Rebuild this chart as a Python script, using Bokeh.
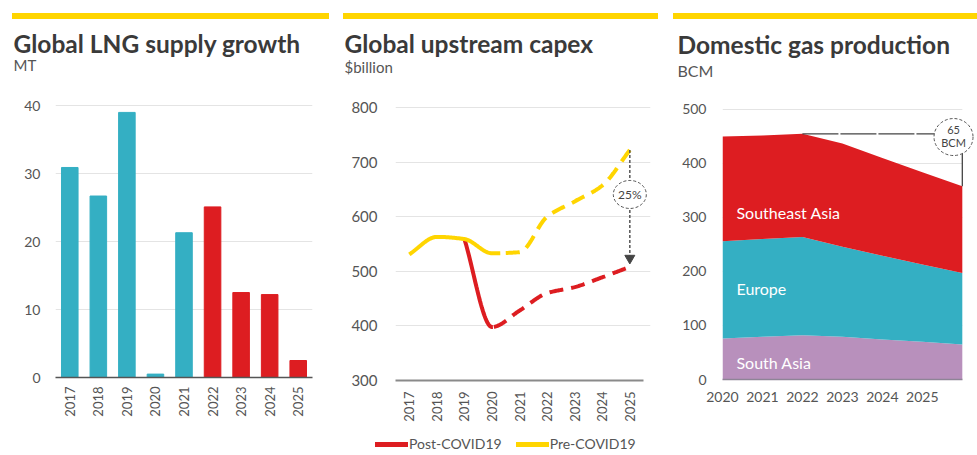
import math
import numpy as np
from bokeh.plotting import figure
from bokeh.models import (ColumnDataSource, FactorRange, Range1d, FixedTicker, Title, Div,
                          Legend, LegendItem)
from bokeh.layouts import row, column
from bokeh.core.properties import value
from bokeh.embed import file_html
from bokeh.resources import INLINE

# ---------------- data ----------------
# Panel 1: Global LNG supply growth (MT)
lng_years = ["2017", "2018", "2019", "2020", "2021", "2022", "2023", "2024", "2025"]
lng_growth = [30.9, 26.7, 39.0, 0.5, 21.3, 25.1, 12.5, 12.2, 2.5]
lng_forecast_start = 2022
lng_ticks = [0, 10, 20, 30, 40]

# Panel 2: Global upstream capex ($billion)
capex_years = [2017, 2018, 2019, 2020, 2021, 2022, 2023, 2024, 2025]
pre_covid = [531, 563, 559, 533, 535, 600, 628, 657, 722]
post_covid_years = [2019, 2020, 2021, 2022, 2023, 2024, 2025]
post_covid = [559, 398, 428, 460, 471, 489, 508]
capex_ticks = [300, 400, 500, 600, 700, 800]
capex_gap_label = "25%"
capex_series = ["Post-COVID19", "Pre-COVID19"]

# Panel 3: Domestic gas production (BCM)
gas_years = [2020, 2021, 2022, 2023, 2024, 2025, 2026]
gas_tick_years = [2020, 2021, 2022, 2023, 2024, 2025]
south_asia = [76, 79, 82, 79, 74, 70, 65]
europe = [180, 181, 182, 167, 155, 143, 132]
southeast_asia = [194, 192, 191, 191, 181, 171, 161]
gas_ticks = [0, 100, 200, 300, 400, 500]
gas_regions = ["Southeast Asia", "Europe", "South Asia"]
gas_drop_label = ["65", "BCM"]

# ---------------- style ----------------
FONT = "Lato"
YELLOW = "#FFD500"
RED = "#DD1D21"
TEAL = "#34AFC3"
PURPLE = "#B890BC"
TITLE_C = "#3A3A3A"
SUB_C = "#555555"
GRID_C = "#E4E4E4"
TOP = 19          # figure top on the page (below the yellow bar)
FRAME_TOP = 99    # frame top on the page
TITLE_SIZE = 24.5


def base_fig(width, height, x_range, y_range, left, right, bottom):
    p = figure(width=width, height=height, x_range=x_range, y_range=y_range,
               output_backend="svg", toolbar_location=None, title_location=None,
               min_border_left=left, min_border_right=right,
               min_border_top=FRAME_TOP - TOP, min_border_bottom=bottom)
    p.outline_line_color = None
    p.xgrid.grid_line_color = None
    p.ygrid.grid_line_color = GRID_C
    p.ygrid.grid_line_width = 1
    p.yaxis.axis_line_color = None
    for ax in (p.xaxis, p.yaxis):
        ax.major_tick_line_color = None
        ax.minor_tick_line_color = None
        ax.major_tick_out = 0
        ax.major_tick_in = 0
        ax.major_label_text_font = FONT
        ax.major_label_text_color = SUB_C
    p.yaxis.major_label_text_font_size = "14px"
    p.xaxis.major_label_text_font_size = "13px"
    return p


def add_titles(p, title, sub, offset, sub_size, sub_baseline, title_baseline):
    # stacked above the frame: spacer, subtitle, title (outermost)
    sub_bottom = sub_baseline + 0.213 * sub_size
    spacer = FRAME_TOP - sub_bottom - 2 - 2.4
    sub_top = sub_bottom - 2 - 1.2 * sub_size
    t_bottom = title_baseline + 0.213 * TITLE_SIZE
    s_t = 2 * (sub_top - t_bottom)
    p.add_layout(Title(text=" ", text_font=FONT, text_font_size="2px",
                       standoff=spacer), "above")
    p.add_layout(Title(text=sub, text_font=FONT, text_font_size=f"{sub_size}px",
                       text_font_style="normal", text_color=SUB_C, offset=offset,
                       standoff=0), "above")
    p.add_layout(Title(text=title, text_font=FONT, text_font_size=f"{TITLE_SIZE}px",
                       text_font_style="bold", text_color=TITLE_C, offset=offset,
                       standoff=s_t), "above")


def yellow_bar(width, left):
    return Div(text="", width=width, height=6, margin=(13, 0, 0, left),
               styles={"background-color": YELLOW})


def mono_curve(xs, ys, n=30):
    xs = np.asarray(xs, float)
    ys = np.asarray(ys, float)
    h = np.diff(xs)
    d = np.diff(ys) / h
    m = np.zeros_like(ys)
    m[0], m[-1] = d[0], d[-1]
    for i in range(1, len(ys) - 1):
        if d[i - 1] * d[i] <= 0:
            m[i] = 0.0
        else:
            w1 = 2 * h[i] + h[i - 1]
            w2 = h[i] + 2 * h[i - 1]
            m[i] = (w1 + w2) / (w1 / d[i - 1] + w2 / d[i])
    ox, oy = [], []
    for i in range(len(h)):
        t = np.linspace(0, 1, n, endpoint=False)
        h00 = 2 * t**3 - 3 * t**2 + 1
        h10 = t**3 - 2 * t**2 + t
        h01 = -2 * t**3 + 3 * t**2
        h11 = t**3 - t**2
        oy.extend(h00 * ys[i] + h10 * h[i] * m[i] + h01 * ys[i + 1] + h11 * h[i] * m[i + 1])
        ox.extend(xs[i] + t * h[i])
    ox.append(xs[-1])
    oy.append(ys[-1])
    return np.array(ox), np.array(oy)


# ---------------- panel 1 ----------------
p1 = base_fig(330, 436, FactorRange(factors=lng_years), Range1d(0, 40.9), 55, 18, 78)
src1 = ColumnDataSource(dict(
    year=lng_years, value=lng_growth,
    color=[RED if int(y) >= lng_forecast_start else TEAL for y in lng_years]))
p1.vbar(x="year", top="value", width=0.58, color="color", source=src1)
p1.yaxis.ticker = FixedTicker(ticks=lng_ticks)
p1.yaxis.major_label_standoff = 15
p1.xaxis.axis_line_color = "#555555"
p1.xaxis.axis_line_width = 1.5
p1.xaxis.major_label_orientation = math.pi / 2
p1.xaxis.major_label_standoff = 9
add_titles(p1, "Global LNG supply growth", "MT", -42, 15, 70, 52)

# ---------------- panel 2 ----------------
P2_H = 411
p2 = base_fig(330, P2_H, Range1d(2016.5, 2025.75), Range1d(300, 814.6), 65, 10,
              TOP + P2_H - 380)
p2.yaxis.ticker = FixedTicker(ticks=capex_ticks)
p2.yaxis.major_label_standoff = 18
p2.yaxis.major_label_text_font_size = "15px"
p2.xaxis.ticker = FixedTicker(ticks=capex_years)
p2.xaxis.bounds = (2016.5, 2025.5)
p2.xaxis.axis_line_color = "#8A8A8A"
p2.xaxis.axis_line_width = 2
p2.xaxis.major_label_orientation = math.pi / 2
p2.xaxis.major_label_standoff = 11

DASH = "14 8"
rx, ry = mono_curve(post_covid_years, post_covid)
split_post = 2020.05
p2.line(rx[rx <= split_post], ry[rx <= split_post], line_color=RED, line_width=4)
p2.line(rx[rx >= split_post], ry[rx >= split_post], line_color=RED, line_width=4, line_dash=DASH)

yx, yy = mono_curve(capex_years, pre_covid)
split_pre = 2020.3
p2.line(yx[yx <= split_pre], yy[yx <= split_pre], line_color=YELLOW, line_width=4)
p2.line(yx[yx >= split_pre + 0.2], yy[yx >= split_pre + 0.2], line_color=YELLOW, line_width=4,
        line_dash=DASH)

# gap annotation
gx = capex_years[-1]
p2.segment(x0=[gx], y0=[pre_covid[-1]], x1=[gx], y1=[post_covid[-1] + 16],
           line_color="#555555", line_width=1.5, line_dash="3 2")
p2.scatter(x=[gx], y=[post_covid[-1] + 16], marker="inverted_triangle", size=10,
           fill_color="#444444", line_color="#444444")
gap_y = pre_covid[-1] - 0.38 * (pre_covid[-1] - post_covid[-1])
p2.ellipse(x=[gx], y=[gap_y], width=33, height=28, width_units="screen",
           height_units="screen", fill_color="white", line_color="#555555",
           line_width=1, line_dash="3 2")
p2.text(x=[gx], y=[gap_y], text=[capex_gap_label], text_align="center",
        text_baseline="middle", text_font=value(FONT), text_font_size="12px",
        text_color="#444444")
add_titles(p2, "Global upstream capex", "$billion", -51, 15, 71.5, 52)

# legend strip under panel 2 (renderers carry no visible points)
can_unalign = "frame_align" in p2.properties()
pl = figure(width=330, height=25, x_range=Range1d(0, 1), y_range=Range1d(0, 1),
            output_backend="svg", toolbar_location=None, title_location=None,
            x_axis_location=None, y_axis_location=None,
            min_border_left=45, min_border_right=0, min_border_top=5, min_border_bottom=0)
if can_unalign:
    p2.frame_align = False
    pl.frame_align = False
pl.grid.visible = False
pl.outline_line_color = None
lr = pl.line(x=[np.nan], y=[np.nan], line_color=RED, line_width=5, line_cap="round")
ly = pl.line(x=[np.nan], y=[np.nan], line_color=YELLOW, line_width=5, line_cap="round")
legend = Legend(items=[LegendItem(label=capex_series[0], renderers=[lr]),
                       LegendItem(label=capex_series[1], renderers=[ly])],
                orientation="horizontal", location="top_left",
                glyph_width=33 if can_unalign else 28,
                glyph_height=16, label_standoff=1, spacing=14 if can_unalign else 8,
                margin=0, padding=0,
                border_line_color=None, background_fill_alpha=0,
                label_text_font=FONT, label_text_font_size="14px",
                label_text_color=SUB_C)
pl.add_layout(legend)

# ---------------- panel 3 ----------------
p3 = base_fig(317, 436, Range1d(2020, 2026.38), Range1d(0, 518.5), 62, 0, 76)
p3.ygrid.grid_line_color = None
grid_levels = gas_ticks[1:]
p3.segment(x0=[gas_years[0]] * len(grid_levels), y0=grid_levels,
           x1=[gas_years[-1]] * len(grid_levels), y1=grid_levels,
           line_color=GRID_C, line_width=1)
src3 = ColumnDataSource(dict(year=gas_years, south_asia=south_asia, europe=europe,
                             southeast_asia=southeast_asia))
p3.varea_stack(stackers=["south_asia", "europe", "southeast_asia"], x="year",
               color=[PURPLE, TEAL, RED], source=src3)
p3.yaxis.ticker = FixedTicker(ticks=gas_ticks)
p3.yaxis.major_label_standoff = 16
p3.xaxis.ticker = FixedTicker(ticks=gas_tick_years)
p3.xaxis.bounds = (gas_years[0], gas_years[-1])
p3.xaxis.axis_line_color = "#8E8496"
p3.xaxis.axis_line_width = 1.5
p3.xaxis.major_label_standoff = 12
p3.xaxis.major_label_text_font_size = "14px"

p3.text(x=[2020.35] * 3, y=[310, 169, 32], text=gas_regions,
        text_color="white", text_font=value(FONT), text_font_size="16px",
        text_align="left", text_baseline="middle")

totals = np.array(south_asia) + np.array(europe) + np.array(southeast_asia)
pk = int(np.argmax(totals))
cx, cy = 2025.78, 449
p3.line(x=[gas_years[pk], cx], y=[totals[pk], totals[pk]], line_color="#444444",
        line_width=1.3, line_dash="36 2")
p3.segment(x0=[gas_years[-1]], y0=[totals[-1]], x1=[gas_years[-1]], y1=[cy],
           line_color="#444444", line_width=1.3)
p3.ellipse(x=[cx], y=[cy], width=39, height=37, width_units="screen",
           height_units="screen", fill_color="white", line_color="#555555",
           line_width=1, line_dash="3 2")
p3.text(x=[cx, cx], y=[cy + 13, cy - 11], text=gas_drop_label, text_align="center",
        text_baseline="middle", text_font=value(FONT), text_font_size="11px",
        text_color="#444444")
add_titles(p3, "Domestic gas production", "BCM", -45, 16, 76, 53)

layout = row(column(yellow_bar(317, 12), p1),
             column(yellow_bar(315, 13), p2, pl),
             column(yellow_bar(304, 13), p3))

open("out.html", "w").write(file_html(layout, INLINE))
